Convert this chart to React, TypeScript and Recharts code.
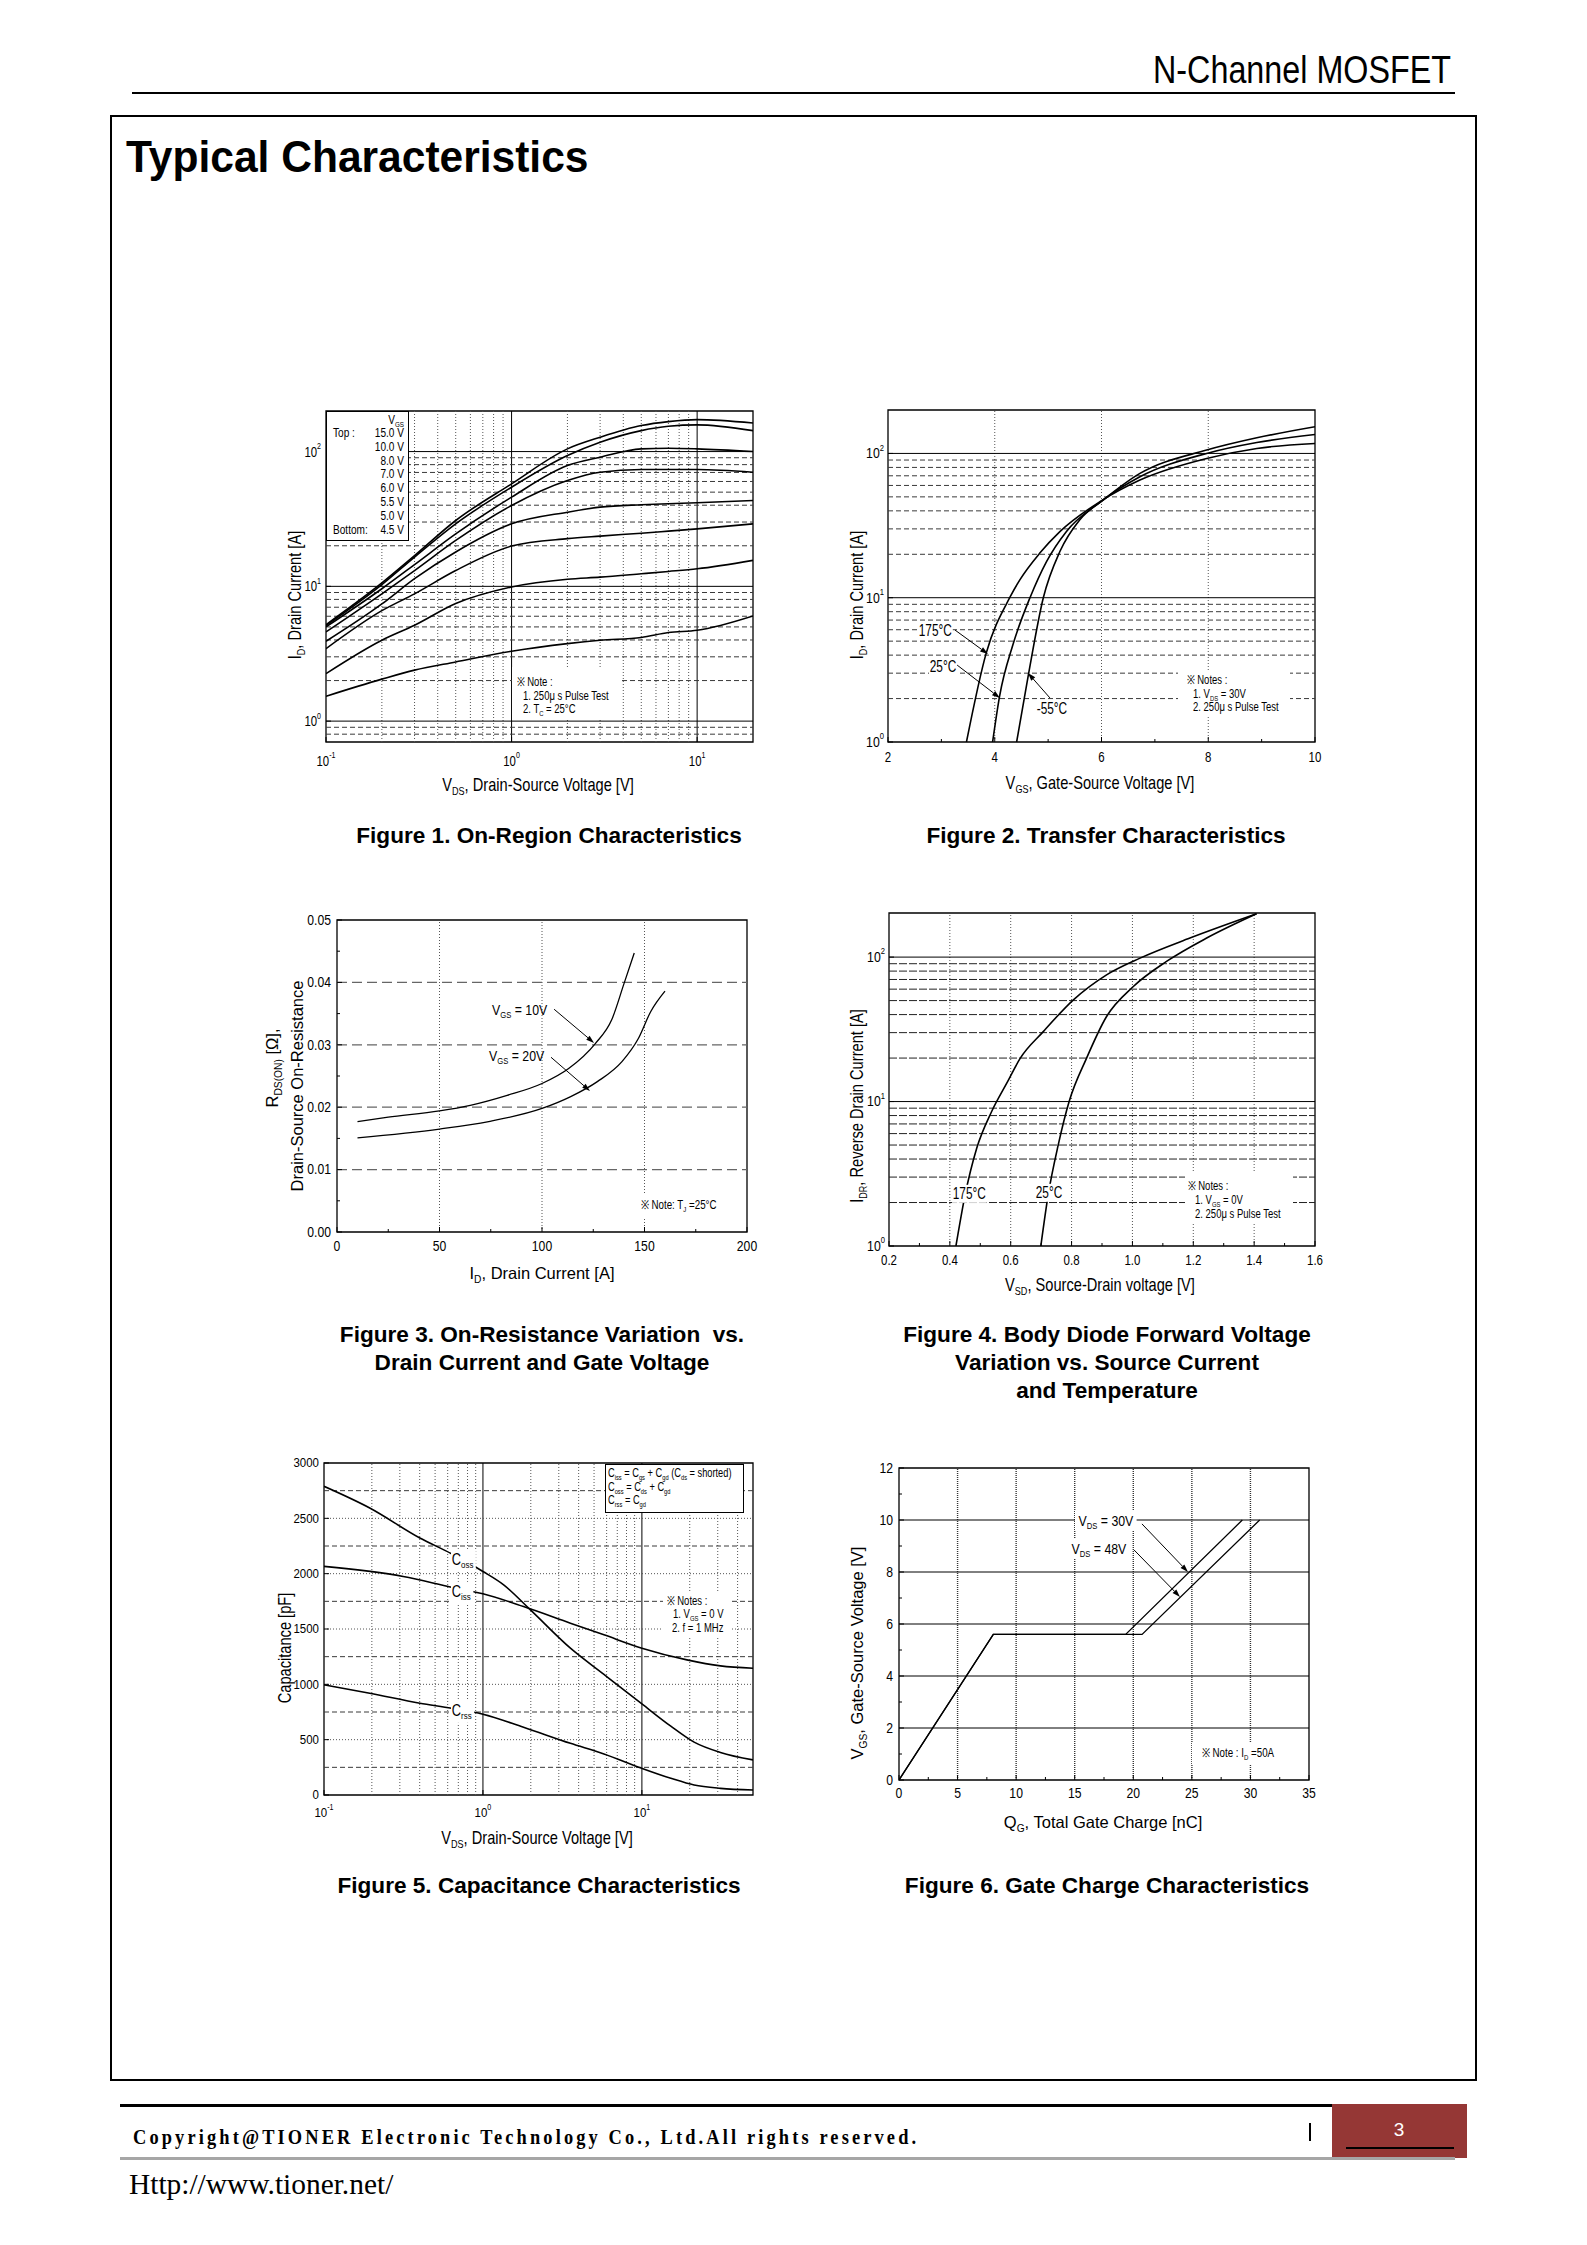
import React from 'react';
import { LineChart, Line, XAxis, YAxis, ReferenceLine, ReferenceArea } from 'recharts';

const SANS = "'Liberation Sans', Arial, Helvetica, sans-serif";
const SERIF = "'Liberation Serif', 'Times New Roman', serif";

// ---------- Figure 1: on-region characteristics ----------
const f1Vds = [0.1, 0.2, 0.3, 0.5, 1, 2, 3, 5, 7, 10, 20];
const f1Id150 = [5.2, 10.6, 16.9, 30.8, 57.6, 104.7, 127.7, 155.9, 166.8, 172.6, 163];
const f1Id100 = [5.12, 10.3, 16.5, 29.1, 54.4, 93.4, 117.3, 143.1, 154, 157.7, 143];
const f1Id80 = [5.0, 9.6, 14.5, 24.5, 45.9, 78.8, 90.8, 104.7, 105.8, 104.7, 100];
const f1Id70 = [4.59, 8.8, 13.1, 21.9, 39.8, 61, 70.3, 73.6, 73.6, 73.6, 70.3];
const f1Id60 = [3.91, 7.4, 11.4, 18.0, 29.1, 35.5, 38.7, 40.3, 41, 41.7, 43.4];
const f1Id55 = [3.45, 6.6, 8.8, 13.1, 19.9, 22.6, 23.6, 24.8, 25.7, 26.7, 29.1];
const f1Id50 = [2.25, 3.98, 5.14, 7.45, 9.9, 11.3, 11.7, 12.4, 12.9, 13.5, 15.6];
const f1Id45 = [1.53, 2.05, 2.39, 2.75, 3.3, 3.76, 3.98, 4.17, 4.54, 4.72, 6.03];
const f1Vgs = ['15.0', '10.0', '8.0', '7.0', '6.0', '5.5', '5.0', '4.5'];
const f1GridX = [0.2, 0.3, 0.4, 0.5, 0.6, 0.7, 0.8, 0.9, 1, 2, 3, 4, 5, 6, 7, 8, 9, 10];
const f1GridY = [0.8, 0.9, 1, 2, 3, 4, 5, 6, 7, 8, 9, 10, 20, 30, 40, 50, 60, 70, 80, 90, 100];
const f1TicksX = [0.1, 1, 10];
const f1TicksY = [1, 10, 100];

// ---------- Figure 2: transfer characteristics ----------
const f2X175 = [3.47, 3.84, 4.28, 4.47, 4.84, 5.22, 5.97, 6.72, 7.97, 8.91, 10];
const f2Y175 = [1, 4.13, 10, 13.3, 20.3, 28.7, 46.3, 65.4, 92.3, 108.3, 117.3];
const f2X25 = [3.96, 4.09, 4.34, 4.66, 4.97, 5.34, 5.97, 6.72, 7.97, 8.91, 10];
const f2Y25 = [1, 2.07, 4.72, 10, 17.8, 28.7, 45.8, 68.9, 100, 119, 135.3];
const f2Xm55 = [4.41, 4.63, 4.91, 5.22, 5.59, 6.03, 6.72, 7.97, 8.91, 10];
const f2Ym55 = [1, 2.92, 10, 20.9, 34.6, 47.5, 72.7, 105.5, 128.3, 153];
const f2GridX = [4, 6, 8];
const f2GridY = [2, 3, 4, 5, 6, 7, 8, 9, 10, 20, 30, 40, 50, 60, 70, 80, 90, 100];
const f2TicksX = [2, 4, 6, 8, 10];
const f2MinorX = [3, 5, 7, 9];
const f2Arrows = [[[3.255, 5.97], [3.873, 4.07]], [[3.292, 3.42], [4.097, 2.02]], [[5.034, 2.02], [4.622, 3.01]]];

// ---------- Figure 3: on-resistance ----------
const f3X10 = [10, 25, 50, 65, 83, 100, 113, 126, 134, 140, 145];
const f3Y10 = [0.0177, 0.0184, 0.0194, 0.0203, 0.0219, 0.0238, 0.0262, 0.0302, 0.034, 0.0398, 0.0447];
const f3X20 = [10, 50, 74, 100, 114, 127, 139, 147, 153, 160];
const f3Y20 = [0.0151, 0.0165, 0.0177, 0.0198, 0.0217, 0.0241, 0.0273, 0.031, 0.0353, 0.0386];
const f3GridX = [50, 100, 150];
const f3GridY = [0.01, 0.02, 0.03, 0.04];
const f3TicksX = [0, 50, 100, 150, 200];
const f3MinorX = [25, 75, 125, 175];
const f3TicksY = [0, 0.01, 0.02, 0.03, 0.04, 0.05];
const f3MinorY = [0.005, 0.015, 0.025, 0.035, 0.045];
const f3Arrows = [[[105.9, 0.0357], [125.4, 0.0303]], [[104.4, 0.028], [123.4, 0.0226]]];

// ---------- Figure 4: body diode ----------
const f4X175 = [0.42, 0.45, 0.488, 0.537, 0.587, 0.631, 0.707, 0.806, 0.915, 1.025, 1.189, 1.408];
const f4Y175 = [1, 2.25, 4.73, 8.5, 13.4, 19.9, 30.5, 50.6, 75.4, 98.4, 135.5, 199.5];
const f4X25 = [0.699, 0.723, 0.756, 0.792, 0.849, 0.915, 1.003, 1.112, 1.244, 1.408];
const f4Y25 = [1, 2.25, 4.99, 10, 19.9, 38.8, 62.6, 93.3, 135.5, 199.5];
const f4GridX = [0.4, 0.6, 0.8, 1.0, 1.2, 1.4];
const f4GridY = [2, 3, 4, 5, 6, 7, 8, 9, 10, 20, 30, 40, 50, 60, 70, 80, 90, 100];
const f4TicksX = [0.2, 0.4, 0.6, 0.8, 1.0, 1.2, 1.4, 1.6];
const f4MinorX = [0.3, 0.5, 0.7, 0.9, 1.1, 1.3, 1.5];

// ---------- Figure 5: capacitance ----------
const f5XIss = [0.1, 0.315, 0.634, 1, 1.8, 3.55, 5.77, 10, 19.2, 31.2, 50];
const f5Iss = [2066, 1975, 1878, 1818, 1703, 1553, 1447, 1327, 1221, 1167, 1146];
const f5XOss = [0.1, 0.194, 0.401, 0.634, 1, 1.35, 1.99, 3.55, 5.77, 10, 15.2, 21.3, 31.2, 50];
const f5Oss = [2789, 2593, 2322, 2180, 2020, 1899, 1673, 1327, 1090, 823, 622, 478, 385, 317];
const f5XRss = [0.1, 0.194, 0.401, 0.634, 1, 1.8, 3.55, 5.77, 10, 15.2, 21.3, 31.2, 50];
const f5Rss = [995, 920, 829, 784, 730, 612, 467, 371, 241, 151, 90, 60, 45];
const f5GridX = [0.2, 0.3, 0.4, 0.5, 0.6, 0.7, 0.8, 0.9, 1, 2, 3, 4, 5, 6, 7, 8, 9, 10, 20, 30, 40];
const f5GridY = [250, 500, 750, 1000, 1250, 1500, 1750, 2000, 2250, 2500, 2750];
const f5TicksX = [0.1, 1, 10];
const f5TicksY = [0, 500, 1000, 1500, 2000, 2500, 3000];

// ---------- Figure 6: gate charge ----------
const f6Q30 = [0, 8.05, 19.35, 29.31];
const f6V30 = [0, 5.6, 5.6, 10];
const f6Q48 = [0, 8.05, 20.75, 30.79];
const f6V48 = [0, 5.6, 5.6, 10];
const f6GridX = [5, 10, 15, 20, 25, 30];
const f6GridY = [2, 4, 6, 8, 10];
const f6TicksX = [0, 5, 10, 15, 20, 25, 30, 35];
const f6MinorX = [2.5, 7.5, 12.5, 17.5, 22.5, 27.5, 32.5];
const f6TicksY = [0, 2, 4, 6, 8, 10, 12];
const f6MinorY = [1, 3, 5, 7, 9, 11];
const f6Arrows = [[[20.74, 9.85], [24.67, 8.0]], [[20.06, 8.85], [23.99, 7.04]]];

const GRID: Record<string, any> = {
  solid: { stroke: '#000', strokeWidth: 1 },
  dash: { stroke: '#3a3a3a', strokeWidth: 1, strokeDasharray: '5 3' },
  dot: { stroke: '#555', strokeWidth: 1, strokeDasharray: '1 2' },
  long: { stroke: '#666', strokeWidth: 1.3, strokeDasharray: '10 5' },
  dense: { stroke: '#222', strokeWidth: 1, strokeDasharray: '8 2' },
  dotDark: { stroke: '#333', strokeWidth: 1.4, strokeDasharray: '1 1' },
};

const isDecade = (v: number) => Math.abs(Math.log10(v) - Math.round(Math.log10(v))) < 1e-6;
const same = (a: number, b: number) => Math.abs(a - b) <= Math.abs(a) * 1e-6 + 1e-12;
const zip = (xs: number[], ys: number[]) => xs.map((x, i) => ({ x, y: ys[i] }));

const logFmt = (v: number) => (
  <>
    10<tspan dy={-6} fontSize="0.62em">{Math.round(Math.log10(v))}</tspan>
  </>
);

function makeXTick(majors: number[], fmt: (v: number) => any, dy: number, fs: number, sx: number) {
  return (t: any) => {
    const v = t.payload.value;
    const major = majors.some((m) => same(m, v));
    return (
      <g>
        <line x1={t.x} y1={t.y} x2={t.x} y2={t.y - (major ? 5 : 3)} stroke="#000" />
        {major && (
          <text transform={`translate(${t.x},${t.y + dy}) scale(${sx},1)`} textAnchor="middle" dominantBaseline="central"
            fontSize={fs} fontFamily={SANS} fill="#000">{fmt(v)}</text>
        )}
      </g>
    );
  };
}

function makeYTick(majors: number[], fmt: (v: number) => any, dx: number, fs: number, sx: number) {
  return (t: any) => {
    const v = t.payload.value;
    const major = majors.some((m) => same(m, v));
    return (
      <g>
        <line x1={t.x} y1={t.y} x2={t.x + (major ? 5 : 3)} y2={t.y} stroke="#000" />
        {major && (
          <text transform={`translate(${t.x - dx},${t.y}) scale(${sx},1)`} textAnchor="end" dominantBaseline="central"
            fontSize={fs} fontFamily={SANS} fill="#000">{fmt(v)}</text>
        )}
      </g>
    );
  };
}

const arrowShape = (p: any) => {
  const { x1, y1, x2, y2 } = p;
  const a = Math.atan2(y2 - y1, x2 - x1);
  const L = 8, W = 2.6;
  const bx = x2 - L * Math.cos(a), by = y2 - L * Math.sin(a);
  const pts = `${x2},${y2} ${bx - W * Math.sin(a)},${by + W * Math.cos(a)} ${bx + W * Math.sin(a)},${by - W * Math.cos(a)}`;
  return (
    <g>
      <line x1={x1} y1={y1} x2={bx} y2={by} stroke="#000" strokeWidth={1} />
      <polygon points={pts} fill="#000" />
    </g>
  );
};

function Plot(p: any) {
  const ML = 60, MT = 16, MR = 20, MB = 40;
  const W = p.width + ML + MR, H = p.height + MT + MB;
  return (
    <div style={{ position: 'absolute', left: p.left - ML, top: p.top - MT, width: W, height: H }}>
      <LineChart width={W} height={H} margin={{ top: MT, right: MR, bottom: 0, left: 0 }}>
        <XAxis type="number" dataKey="x" scale={p.xLog ? 'log' : 'linear'} domain={p.xDomain} allowDataOverflow
          ticks={[...p.xTicks, ...(p.xMinor || [])]} interval={0} tickSize={0} tickMargin={0} axisLine={false} tickLine={false}
          height={MB} tick={makeXTick(p.xTicks, p.xFmt, p.xDy, p.fs, p.sx)} />
        <YAxis type="number" scale={p.yLog ? 'log' : 'linear'} domain={p.yDomain} allowDataOverflow
          ticks={[...p.yTicks, ...(p.yMinor || [])]} interval={0} tickSize={0} tickMargin={0} axisLine={false} tickLine={false}
          width={ML} tick={makeYTick(p.yTicks, p.yFmt, p.yDx, p.fsY || p.fs, p.sx)} />
        {p.gridX.map((v: number) => (
          <ReferenceLine key={`gx${v}`} x={v} {...GRID[p.gx(v)]} ifOverflow="visible" />
        ))}
        {p.gridY.map((v: number) => (
          <ReferenceLine key={`gy${v}`} y={v} {...GRID[p.gy(v)]} ifOverflow="visible" />
        ))}
        {p.series.map((s: any, i: number) => (
          <Line key={i} data={zip(s.x, s.y)} dataKey="y" type={s.curve || 'monotone'} stroke="#000"
            strokeWidth={s.w || 1.6} dot={false} activeDot={false} isAnimationActive={false} />
        ))}
        {(p.arrows || []).map((a: number[][], i: number) => (
          <ReferenceLine key={`ar${i}`} segment={[{ x: a[0][0], y: a[0][1] }, { x: a[1][0], y: a[1][1] }]}
            shape={arrowShape} ifOverflow="visible" />
        ))}
        <ReferenceArea x1={p.xDomain[0]} x2={p.xDomain[1]} y1={p.yDomain[0]} y2={p.yDomain[1]} fill="none"
          fillOpacity={0} stroke="#000" strokeWidth={1.3} ifOverflow="visible" />
      </LineChart>
    </div>
  );
}

function Txt({ x, y, a = 'start', size = 12.5, sx = 1, w = 400, font = SANS, rot = false, bg, pad, color = '#000', ls, children }: any) {
  const tx = a === 'middle' ? '-50%' : a === 'end' ? '-100%' : '0';
  const origin = a === 'middle' ? 'center' : a === 'end' ? 'right center' : 'left center';
  const tf = rot ? `translate(-50%,-50%) rotate(-90deg) scaleX(${sx})` : `translate(${tx},-50%) scaleX(${sx})`;
  return (
    <div style={{
      position: 'absolute', left: x, top: y, transform: tf, transformOrigin: rot ? 'center' : origin, fontSize: size,
      fontWeight: w, fontFamily: font, lineHeight: 1.15, whiteSpace: 'nowrap', color, background: bg, padding: pad, letterSpacing: ls,
    }}>{children}</div>
  );
}

const Sub = ({ children }: any) => (
  <span style={{ fontSize: '0.62em', position: 'relative', top: '0.35em' }}>{children}</span>
);

const Box = ({ x, y, w, h, border }: any) => (
  <div style={{ position: 'absolute', left: x, top: y, width: w, height: h, background: '#fff', boxSizing: 'border-box', border: border ? '1px solid #000' : 'none' }} />
);

const Caption = ({ x, y, children }: any) => (
  <Txt x={x} y={y} a="middle" size={22.6} w={700}>{children}</Txt>
);

const NT = 12.5, NSX = 0.76; // note text
const TT = 19, TSX = 0.77; // narrow axis titles

function Figure1() {
  const ys = [f1Id150, f1Id100, f1Id80, f1Id70, f1Id60, f1Id55, f1Id50, f1Id45];
  return (
    <>
      <Plot left={326} top={411} width={427} height={331} xLog yLog xDomain={[0.1, 20]} yDomain={[0.7, 200]}
        xTicks={f1TicksX} yTicks={f1TicksY} xFmt={logFmt} yFmt={logFmt} xDy={19} yDx={5} fs={15} sx={0.76}
        gridX={f1GridX} gridY={f1GridY} gx={(v: number) => (isDecade(v) ? 'solid' : 'dot')} gy={(v: number) => (isDecade(v) ? 'solid' : 'dash')}
        series={ys.map((y) => ({ x: f1Vds, y }))} />
      <Box x={326} y={411} w={83} h={130} border />
      <Txt x={404} y={421} a="end" size={12} sx={0.84}>V<Sub>GS</Sub></Txt>
      <Txt x={333} y={434} size={12} sx={0.84}>Top :</Txt>
      <Txt x={333} y={531} size={12} sx={0.84}>Bottom:</Txt>
      {f1Vgs.map((v, i) => (
        <Txt key={v} x={404} y={434 + i * 13.8} a="end" size={12} sx={0.84}>{v} V</Txt>
      ))}
      <Box x={512} y={667} w={108} h={53} />
      <Txt x={517} y={682} size={NT} sx={NSX}>※ Note :</Txt>
      <Txt x={523} y={696} size={NT} sx={NSX}>1. 250μ s Pulse Test</Txt>
      <Txt x={523} y={709} size={NT} sx={NSX}>2. T<Sub>C</Sub> = 25°C</Txt>
      <Txt x={538} y={785} a="middle" size={TT} sx={TSX}>V<Sub>DS</Sub>, Drain-Source Voltage [V]</Txt>
      <Txt x={295} y={595} rot size={TT} sx={TSX}>I<Sub>D</Sub>, Drain Current [A]</Txt>
      <Caption x={549} y={836}>Figure 1. On-Region Characteristics</Caption>
    </>
  );
}

function Figure2() {
  return (
    <>
      <Plot left={888} top={410} width={427} height={332} yLog xDomain={[2, 10]} yDomain={[1, 200]}
        xTicks={f2TicksX} xMinor={f2MinorX} yTicks={[1, 10, 100]} xFmt={(v: number) => String(v)} yFmt={logFmt}
        xDy={15} yDx={4} fs={14} fsY={15} sx={0.82}
        gridX={f2GridX} gridY={f2GridY} gx={() => 'dot'} gy={(v: number) => (isDecade(v) ? 'solid' : 'dash')}
        series={[{ x: f2X175, y: f2Y175 }, { x: f2X25, y: f2Y25 }, { x: f2Xm55, y: f2Ym55 }]} arrows={f2Arrows} />
      <Txt x={918} y={631} size={16} sx={0.74} bg="#fff" pad="0 1px">175°C</Txt>
      <Txt x={929} y={667} size={16} sx={0.74} bg="#fff" pad="0 1px">25°C</Txt>
      <Txt x={1036} y={709} size={16} sx={0.74} bg="#fff" pad="0 1px">-55°C</Txt>
      <Box x={1178} y={672} w={112} h={43} />
      <Txt x={1187} y={680} size={NT} sx={NSX}>※ Notes :</Txt>
      <Txt x={1193} y={694} size={NT} sx={NSX}>1. V<Sub>DS</Sub> = 30V</Txt>
      <Txt x={1193} y={707} size={NT} sx={NSX}>2. 250μ s Pulse Test</Txt>
      <Txt x={1100} y={783} a="middle" size={TT} sx={TSX}>V<Sub>GS</Sub>, Gate-Source Voltage [V]</Txt>
      <Txt x={857} y={595} rot size={TT} sx={TSX}>I<Sub>D</Sub>, Drain Current [A]</Txt>
      <Caption x={1106} y={836}>Figure 2. Transfer Characteristics</Caption>
    </>
  );
}

function Figure3() {
  return (
    <>
      <Plot left={337} top={920} width={410} height={312} xDomain={[0, 200]} yDomain={[0, 0.05]}
        xTicks={f3TicksX} xMinor={f3MinorX} yTicks={f3TicksY} yMinor={f3MinorY}
        xFmt={(v: number) => String(v)} yFmt={(v: number) => v.toFixed(2)} xDy={14} yDx={6} fs={14} sx={0.87}
        gridX={f3GridX} gridY={f3GridY} gx={() => 'dot'} gy={() => 'long'}
        series={[{ x: f3X10, y: f3Y10, w: 1.3 }, { x: f3X20, y: f3Y20, w: 1.3 }]} arrows={f3Arrows} />
      <Txt x={492} y={1010} size={14} sx={0.88}>V<Sub>GS</Sub> = 10V</Txt>
      <Txt x={489} y={1056} size={14} sx={0.88}>V<Sub>GS</Sub> = 20V</Txt>
      <Box x={636} y={1194} w={90} h={23} />
      <Txt x={641} y={1205} size={NT} sx={0.78}>※ Note: T<Sub>J</Sub> =25°C</Txt>
      <Txt x={542} y={1273} a="middle" size={16.5}>I<Sub>D</Sub>, Drain Current [A]</Txt>
      <Txt x={272} y={1068} rot size={16.5}>R<Sub>DS(ON)</Sub> [Ω],</Txt>
      <Txt x={297} y={1086} rot size={16.5}>Drain-Source On-Resistance</Txt>
      <Caption x={542} y={1335}>Figure 3. On-Resistance Variation&nbsp; vs.</Caption>
      <Caption x={542} y={1363}>Drain Current and Gate Voltage</Caption>
    </>
  );
}

function Figure4() {
  return (
    <>
      <Plot left={889} top={913} width={426} height={333} yLog xDomain={[0.2, 1.6]} yDomain={[1, 202]}
        xTicks={f4TicksX} xMinor={f4MinorX} yTicks={[1, 10, 100]} xFmt={(v: number) => v.toFixed(1)} yFmt={logFmt}
        xDy={14} yDx={4} fs={14} fsY={15} sx={0.82}
        gridX={f4GridX} gridY={f4GridY} gx={() => 'dot'} gy={(v: number) => (isDecade(v) ? 'solid' : 'dense')}
        series={[{ x: f4X175, y: f4Y175 }, { x: f4X25, y: f4Y25 }]} />
      <Txt x={952} y={1194} size={16} sx={0.74} bg="#fff" pad="0 1px">175°C</Txt>
      <Txt x={1035} y={1193} size={16} sx={0.74} bg="#fff" pad="0 1px">25°C</Txt>
      <Box x={1185} y={1172} w={108} h={51} />
      <Txt x={1188} y={1186} size={NT} sx={NSX}>※ Notes :</Txt>
      <Txt x={1195} y={1200} size={NT} sx={NSX}>1. V<Sub>GS</Sub> = 0V</Txt>
      <Txt x={1195} y={1214} size={NT} sx={NSX}>2. 250μ s Pulse Test</Txt>
      <Txt x={1100} y={1285} a="middle" size={TT} sx={TSX}>V<Sub>SD</Sub>, Source-Drain voltage [V]</Txt>
      <Txt x={857} y={1106} rot size={TT} sx={TSX}>I<Sub>DR</Sub>, Reverse Drain Current [A]</Txt>
      <Caption x={1107} y={1335}>Figure 4. Body Diode Forward Voltage</Caption>
      <Caption x={1107} y={1363}>Variation vs. Source Current</Caption>
      <Caption x={1107} y={1391}>and Temperature</Caption>
    </>
  );
}

function Figure5() {
  return (
    <>
      <Plot left={324} top={1463} width={429} height={332} xLog xDomain={[0.1, 50]} yDomain={[0, 3000]}
        xTicks={f5TicksX} yTicks={f5TicksY} xFmt={logFmt} yFmt={(v: number) => String(v)} xDy={18} yDx={5} fs={13.5} sx={0.85}
        gridX={f5GridX} gridY={f5GridY} gx={(v: number) => (isDecade(v) ? 'solid' : 'dot')} gy={(v: number) => (v % 500 === 0 ? 'dot' : 'dash')}
        series={[{ x: f5XIss, y: f5Iss }, { x: f5XOss, y: f5Oss }, { x: f5XRss, y: f5Rss }]} />
      <Box x={605} y={1464} w={139} h={49} border />
      <Txt x={608} y={1473} size={NT} sx={0.74}>C<Sub>iss</Sub> = C<Sub>gs</Sub> + C<Sub>gd</Sub> (C<Sub>ds</Sub> = shorted)</Txt>
      <Txt x={608} y={1487} size={NT} sx={0.74}>C<Sub>oss</Sub> = C<Sub>ds</Sub> + C<Sub>gd</Sub></Txt>
      <Txt x={608} y={1500} size={NT} sx={0.74}>C<Sub>rss</Sub> = C<Sub>gd</Sub></Txt>
      <Txt x={451} y={1561} size={16} sx={0.8} bg="#fff" pad="1px 3px 3px 1px">C<Sub>oss</Sub></Txt>
      <Txt x={451} y={1593} size={16} sx={0.8} bg="#fff" pad="1px 3px 3px 1px">C<Sub>iss</Sub></Txt>
      <Txt x={451} y={1712} size={16} sx={0.8} bg="#fff" pad="1px 3px 3px 1px">C<Sub>rss</Sub></Txt>
      <Box x={663} y={1592} w={68} h={44} />
      <Txt x={667} y={1601} size={NT} sx={NSX}>※ Notes :</Txt>
      <Txt x={673} y={1614} size={NT} sx={NSX}>1. V<Sub>GS</Sub> = 0 V</Txt>
      <Txt x={672} y={1628} size={NT} sx={NSX}>2. f = 1 MHz</Txt>
      <Txt x={537} y={1838} a="middle" size={TT} sx={TSX}>V<Sub>DS</Sub>, Drain-Source Voltage [V]</Txt>
      <Txt x={285} y={1648} rot size={TT} sx={TSX}>Capacitance [pF]</Txt>
      <Caption x={539} y={1886}>Figure 5. Capacitance Characteristics</Caption>
    </>
  );
}

function Figure6() {
  return (
    <>
      <Plot left={899} top={1468} width={410} height={312} xDomain={[0, 35]} yDomain={[0, 12]}
        xTicks={f6TicksX} xMinor={f6MinorX} yTicks={f6TicksY} yMinor={f6MinorY}
        xFmt={(v: number) => String(v)} yFmt={(v: number) => String(v)} xDy={13} yDx={6} fs={14} sx={0.87}
        gridX={f6GridX} gridY={f6GridY} gx={() => 'dotDark'} gy={() => 'solid'}
        series={[{ x: f6Q30, y: f6V30, curve: 'linear', w: 1.3 }, { x: f6Q48, y: f6V48, curve: 'linear', w: 1.3 }]} arrows={f6Arrows} />
      <Txt x={1075} y={1521} size={14} sx={0.88} bg="#fff" pad="2px 4px">V<Sub>DS</Sub> = 30V</Txt>
      <Txt x={1068} y={1549} size={14} sx={0.88} bg="#fff" pad="2px 4px">V<Sub>DS</Sub> = 48V</Txt>
      <Box x={1192} y={1742} w={98} h={23} />
      <Txt x={1202} y={1753} size={NT} sx={0.78}>※ Note : I<Sub>D</Sub> =50A</Txt>
      <Txt x={1103} y={1822} a="middle" size={16.5}>Q<Sub>G</Sub>, Total Gate Charge [nC]</Txt>
      <Txt x={857} y={1653} rot size={16.5}>V<Sub>GS</Sub>, Gate-Source Voltage [V]</Txt>
      <Caption x={1107} y={1886}>Figure 6. Gate Charge Characteristics</Caption>
    </>
  );
}

function PageFrame() {
  const abs = (s: any) => <div style={{ position: 'absolute', ...s }} />;
  return (
    <>
      <Txt x={1451} y={71} a="end" size={38} sx={0.85}>N-Channel MOSFET</Txt>
      {abs({ left: 132, top: 92, width: 1323, height: 2, background: '#000' })}
      {abs({ left: 110, top: 115, width: 1367, height: 1966, border: '2px solid #000', boxSizing: 'border-box' })}
      <Txt x={126} y={157} size={45} w={700} sx={0.945}>Typical Characteristics</Txt>
      {abs({ left: 120, top: 2104, width: 1212, height: 3, background: '#000' })}
      {abs({ left: 1332, top: 2104, width: 135, height: 54, background: '#953735' })}
      {abs({ left: 1346, top: 2147, width: 108, height: 2, background: '#000' })}
      <Txt x={1399} y={2130} a="middle" size={19} color="#fff">3</Txt>
      {abs({ left: 1309, top: 2123, width: 1.5, height: 18, background: '#000' })}
      <Txt x={133} y={2137} size={20} w={700} font={SERIF} ls="3.4px" sx={0.92}>Copyright@TIONER Electronic Technology Co., Ltd.All rights reserved.</Txt>
      {abs({ left: 120, top: 2157, width: 1335, height: 3, background: '#a6a6a6' })}
      <Txt x={129} y={2184} size={30} font={SERIF} sx={0.98}>Http://www.tioner.net/</Txt>
    </>
  );
}

export default function App() {
  return (
    <div style={{ position: 'absolute', left: 0, top: 0, width: 1587, height: 2245, background: '#fff', overflow: 'hidden', fontFamily: SANS }}>
      <PageFrame />
      <Figure1 />
      <Figure2 />
      <Figure3 />
      <Figure4 />
      <Figure5 />
      <Figure6 />
    </div>
  );
}
